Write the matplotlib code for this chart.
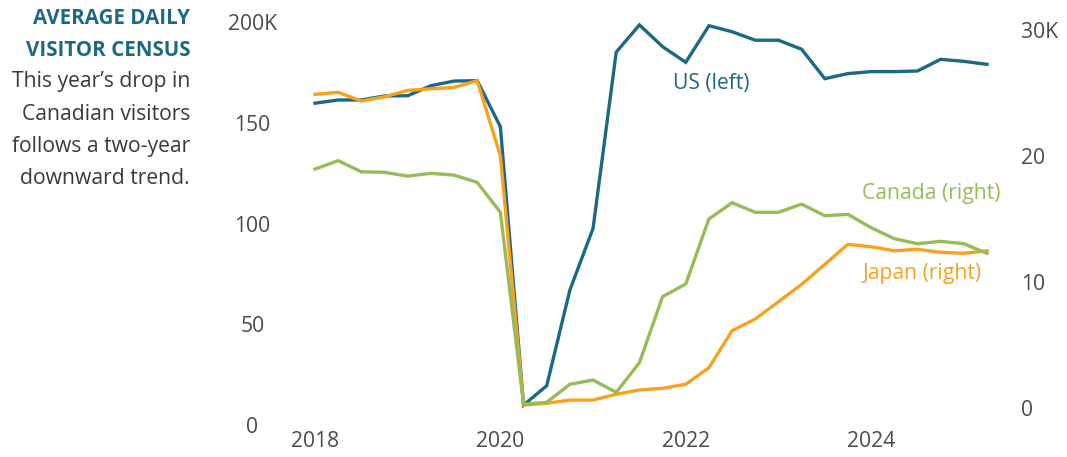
import matplotlib
matplotlib.use("Agg")
import matplotlib.pyplot as plt
import numpy as np

plt.rcParams['font.family'] = ['Open Sans', 'DejaVu Sans']

# ---- data (quarterly, 2018Q1 .. 2025Q2) ----
quarters = [2018 + 0.25 * i for i in range(30)]
us_k = [159.9, 161.5, 161.5, 163.5, 163.6, 168.6, 170.9, 171.1, 148.2, 9.9,
        19.5, 67.1, 97.7, 185.3, 198.8, 188.0, 180.2, 198.4, 195.4, 191.2,
        191.2, 186.7, 172.1, 174.6, 175.6, 175.6, 175.9, 181.7, 180.7, 179.2]
canada_k = [18.94, 19.6, 18.72, 18.68, 18.38, 18.6, 18.46, 17.88, 15.51, 0.3,
            0.45, 1.88, 2.22, 1.24, 3.59, 8.82, 9.83, 14.98, 16.27, 15.51,
            15.51, 16.16, 15.24, 15.35, 14.29, 13.42, 13.02, 13.21, 13.02, 12.26]
japan_k = [24.86, 25.02, 24.33, 24.67, 25.17, 25.3, 25.41, 25.94, 19.99, 0.24,
           0.37, 0.63, 0.63, 1.09, 1.43, 1.56, 1.88, 3.19, 6.13, 7.05,
           8.42, 9.8, 11.39, 12.97, 12.78, 12.46, 12.58, 12.34, 12.26, 12.46]

left_ticks = [0, 50, 100, 150, 200]
left_labels = ['0', '50', '100', '150', '200K']
right_ticks = [0, 10, 20, 30]
right_labels = ['0', '10', '20', '30K']
x_ticks = [2018, 2020, 2022, 2024]
x_labels = ['2018', '2020', '2022', '2024']

title_lines = ['AVERAGE DAILY', 'VISITOR CENSUS']
body_lines = ['This year\u2019s drop in', 'Canadian visitors',
              'follows a two-year', 'downward trend.']

# ---- styling ----
C_US = '#1b6985'
C_CA = '#97bc57'
C_JP = '#f7a11e'
C_TICK = '#4a4a4a'
C_TEXT = '#3a3a3a'
FS = 15.2

W, H = 1067, 457
fig = plt.figure(figsize=(W / 100, H / 100), dpi=100)

x0, x1 = 315, 987          # pixel x of first / last quarter
y_bot, y_top = 425, 22.5    # pixel y of left 0 / left 200
ax = fig.add_axes([x0 / W, (H - y_bot) / H, (x1 - x0) / W, (y_bot - y_top) / H])
ax.set_xlim(quarters[0], quarters[-1])
ax.set_ylim(0, 200)

ax2 = ax.twinx()
# right axis: 0 at pixel 408, 30 at pixel 29.5
r_px = (408 - 29.5) / 30.0
ax2.set_ylim((408 - y_bot) / r_px, (408 - y_top) / r_px)

lw = 2.4
ax.plot(quarters, us_k, color=C_US, lw=lw, clip_on=False, zorder=3, solid_joinstyle='miter')
ax2.plot(quarters, japan_k, color=C_JP, lw=lw, clip_on=False, zorder=3, solid_joinstyle='miter')
ax2.plot(quarters, canada_k, color=C_CA, lw=lw, clip_on=False, zorder=4, solid_joinstyle='miter')

for a in (ax, ax2):
    for s in a.spines.values():
        s.set_visible(False)
    a.patch.set_visible(False)

ax.set_xticks(x_ticks)
ax.set_xticklabels(x_labels)
ax.set_yticks(left_ticks)
ax.set_yticklabels(left_labels, ha='center')
ax.tick_params(axis='x', length=0, pad=4.5, labelsize=FS, labelcolor=C_TICK)
ax.tick_params(axis='y', length=0, pad=45, labelsize=FS, labelcolor=C_TICK)
ax2.set_yticks(right_ticks)
ax2.set_yticklabels(right_labels)
ax2.tick_params(axis='y', length=0, pad=24.5, labelsize=FS, labelcolor=C_TICK)

# series labels
ax.text(2022.28, 169.5, 'US (left)', color=C_US, fontsize=FS, ha='center', va='center')
ax2.text(2024.65, 17.0, 'Canada (right)', color=C_CA, fontsize=FS, ha='center', va='center')
ax2.text(2024.55, 10.7, 'Japan (right)', color=C_JP, fontsize=FS, ha='center', va='center')

# side text panel
tx = 190 / W
for i, line in enumerate(title_lines):
    fig.text(tx, 1 - (19 + 31 * i) / H, line, ha='right', va='center',
             fontsize=14.8, fontweight='bold', color=C_US)
for i, line in enumerate(body_lines):
    fig.text(tx, 1 - (82 + 32.2 * i) / H, line, ha='right', va='center',
             fontsize=FS, color=C_TEXT)

fig.savefig('out.png', dpi=100)
